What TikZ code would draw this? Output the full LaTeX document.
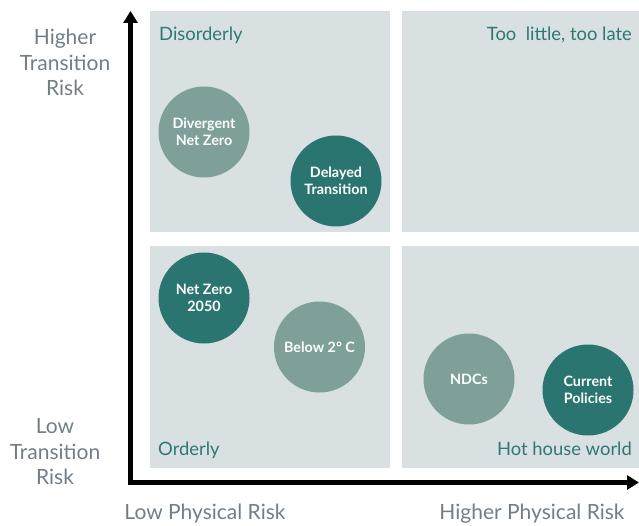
\documentclass[tikz,border=0pt]{standalone}
\usepackage{fontspec}
\setmainfont{Lato}
\usepackage{xcolor}
\usetikzlibrary{arrows.meta}

\definecolor{quadgrey}{HTML}{D8E0E1}
\definecolor{sagegreen}{HTML}{7F9F9B}
\definecolor{deepteal}{HTML}{2B7570}
\definecolor{labelteal}{HTML}{2F7873}
\definecolor{axisgrey}{HTML}{737D85}

\begin{document}
\begin{tikzpicture}[
    x=1pt, y=-1pt,
    quad/.style={fill=quadgrey, inner sep=0pt},
    quadlabel/.style={text=labelteal, font=\fontsize{18.4}{22}\selectfont, inner sep=0pt},
    axislabel/.style={text=axisgrey, font=\fontsize{21}{25.5}\selectfont, align=center, inner sep=0pt},
    scenario/.style={circle, minimum size=91pt, inner sep=0pt, text=white, align=center, font=\bfseries\fontsize{14.3}{17}\selectfont},
    softdot/.style={scenario, fill=sagegreen},
    darkdot/.style={scenario, fill=deepteal},
    axis/.style={line width=4.5pt, {Triangle[length=12pt,width=14pt]}-{Triangle[length=12pt,width=14pt]}}
]
\useasboundingbox (0,0) rectangle (639,526);
% quadrants
\node[quad, minimum width=240pt, minimum height=221.5pt] (disorderly) at (270,121.75) {};
\node[quad, minimum width=237pt, minimum height=221.5pt] (toolate) at (520.5,121.75) {};
\node[quad, minimum width=240pt, minimum height=222pt] (orderly) at (270,357) {};
\node[quad, minimum width=237pt, minimum height=222pt] (hothouse) at (520.5,357) {};
\node[quadlabel, anchor=base west] (disorderlylbl) at (159,41) {Disorderly};
\node[quadlabel, anchor=base east] (toolatelbl) at (632,41) {Too\ \ little, too late};
\node[quadlabel, anchor=base west] (orderlylbl) at (158,455) {Orderly};
\node[quadlabel, anchor=base east] (hothouselbl) at (632,455) {Hot house world};
% axes
\coordinate (origin) at (130.5,482.5);
\coordinate (ytop) at (130.5,11);
\coordinate (xend) at (639,482.5);
\draw[axis] (ytop) -- (origin) -- (xend);
\node[axislabel] (hightr) at (65,62.5) {Higher\\Transition\\Risk};
\node[axislabel] (lowtr) at (55,452) {Low\\Transition\\Risk};
\node[axislabel] (lowpr) at (205,514) {Low Physical Risk};
\node[axislabel] (highpr) at (532,514) {Higher Physical Risk};
% scenarios
\node[softdot] (divergent) at (204,132) {Divergent\\Net Zero};
\node[darkdot] (delayed) at (336,181) {Delayed\\Transition};
\node[darkdot] (netzero) at (204,298) {Net Zero\\2050};
\node[softdot] (below) at (319.5,347) {Below 2° C};
\node[softdot] (ndcs) at (469,379) {NDCs};
\node[darkdot] (current) at (588,390) {Current\\Policies};
\end{tikzpicture}
\end{document}
